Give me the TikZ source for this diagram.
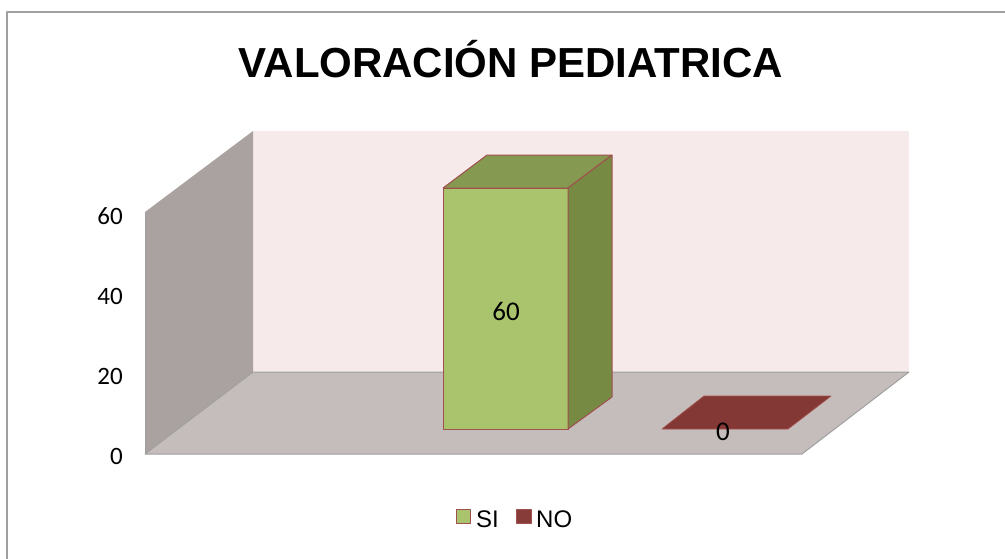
\documentclass[tikz,border=0pt]{standalone}
\usepackage{fontspec}
\setmainfont{Liberation Sans}
\newfontfamily\calibri{Carlito}
\definecolor{wallL}{RGB}{170,162,160}
\definecolor{wallB}{RGB}{246,234,234}
\definecolor{floorC}{RGB}{197,189,188}
\definecolor{barFront}{RGB}{169,196,108}
\definecolor{barTop}{RGB}{134,153,80}
\definecolor{barSide}{RGB}{119,138,68}
\definecolor{barLine}{RGB}{160,80,77}
\definecolor{noFill}{RGB}{132,56,53}
\definecolor{edgeC}{RGB}{160,160,160}
\tikzset{
  barface/.style={draw=barLine,line width=1pt},
  axislabel/.style={anchor=east,font=\calibri\fontsize{25}{30}\selectfont,inner sep=0pt},
  legendtext/.style={anchor=west,font=\fontsize{24}{28}\selectfont,inner sep=0pt}
}
\begin{document}
\begin{tikzpicture}[x=1pt,y=-1pt,line join=bevel]
		\useasboundingbox (0,0) rectangle (1005,558);
		\draw[edgeC,line width=1.5pt] (7,570)--(7,12)--(1020,12) ;%frame
		\fill[wallB] (253,131) rectangle (909,372) ;%back wall
		\fill[wallL] (145,454)--(145,212)--(253,131)--(253,372)--cycle ;%left wall
		\draw[edgeC,line width=1pt] (145,454)--(145,212) ;
		\filldraw[fill=floorC,draw=edgeC,line width=1pt] (145,454)--(253,372)--(909,372)--(802,454)--cycle ;%floor
		% bar SI
		\filldraw[barface,fill=barFront] (443,188) rectangle (568,429) ;
		\filldraw[barface,fill=barTop] (443,188)--(487,155)--(612,155)--(568,188)--cycle ;
		\filldraw[barface,fill=barSide] (568,188)--(612,155)--(612,397)--(568,429)--cycle ;
		\node[font=\calibri\fontsize{27}{32}\selectfont] (siVal) at (506,311) {60} ;
		% bar NO
		\filldraw[draw=barLine,fill=noFill,line width=0.8pt] (662,429)--(704,396)--(831,396)--(788,429)--cycle ;
		\node[font=\calibri\fontsize{27}{32}\selectfont] (noVal) at (723,432) {0} ;
		% axis
		\foreach \Val/\Y in {60/216,40/296,20/376,0/456}
		\node[axislabel] (tick\Val) at (123,\Y) {\Val} ;
		\node[anchor=base,inner sep=0pt,font=\bfseries\fontsize{42}{50}\selectfont] (title) at (511,77) {VALORACIÓN PEDIATRICA} ;
		% legend
		\filldraw[draw=barLine,fill=barFront,line width=1pt] (456,509) rectangle (470,523) ;
		\node[legendtext] (legSI) at (476,519) {SI} ;
		\filldraw[draw=barLine,fill=noFill!85!barLine,line width=1pt] (516,509) rectangle (531,523) ;
		\node[legendtext] (legNO) at (536,519) {NO} ;
	\end{tikzpicture}
\end{document}
